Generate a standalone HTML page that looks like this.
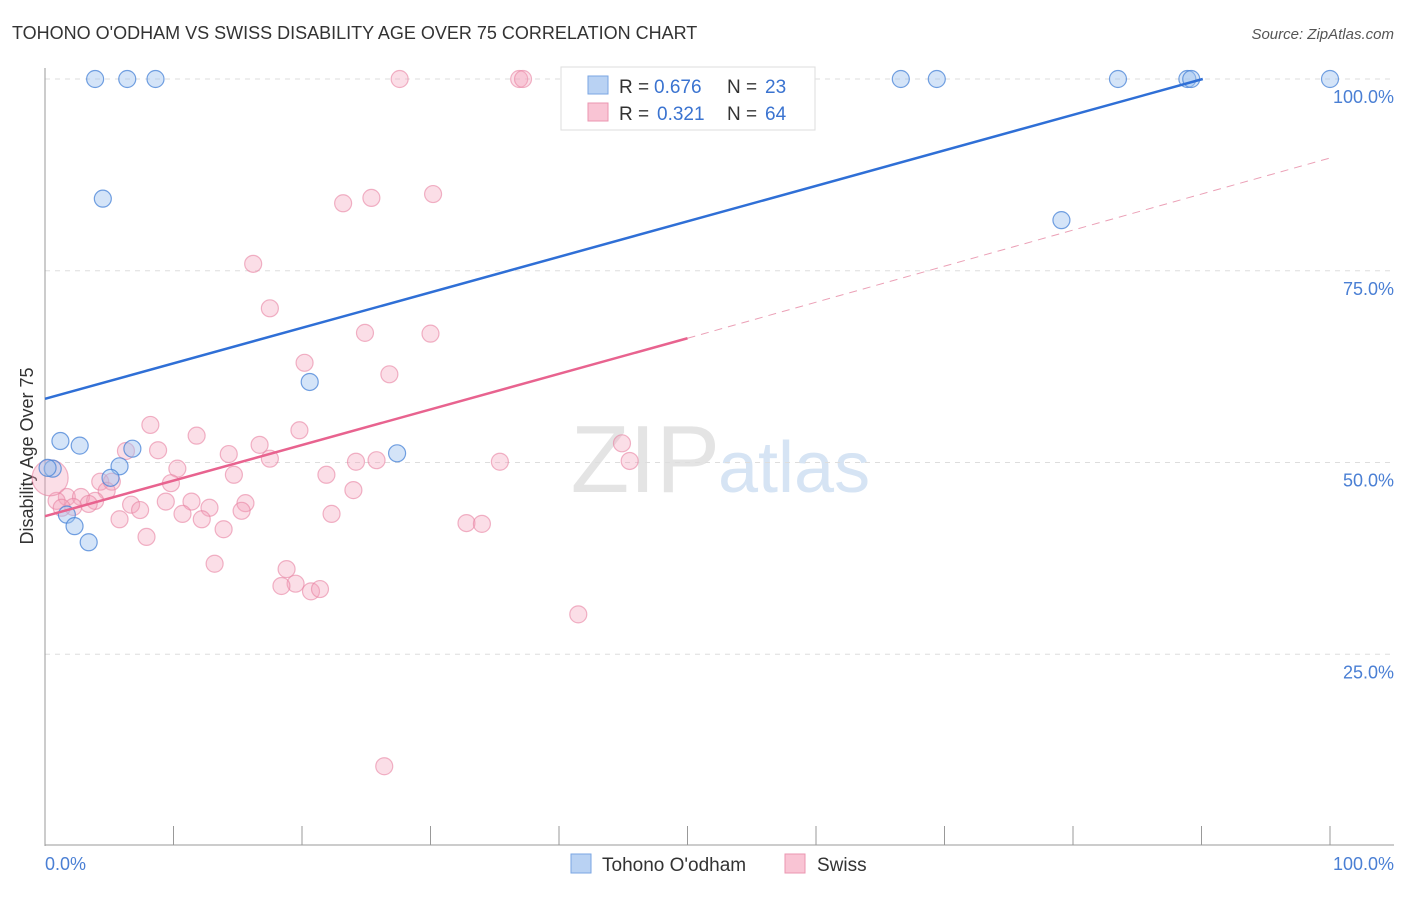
<!DOCTYPE html>
<html><head><meta charset="utf-8"><style>
body{margin:0;background:#fff;font-family:"Liberation Sans",sans-serif}
svg text{font-family:"Liberation Sans",sans-serif}
</style></head><body>
<svg id="c" width="1406" height="892" xmlns="http://www.w3.org/2000/svg">
<text x="12" y="39" font-size="18" fill="#333">TOHONO O'ODHAM VS SWISS DISABILITY AGE OVER 75 CORRELATION CHART</text>
<text x="1394" y="39" font-size="15" fill="#555" font-style="italic" text-anchor="end">Source: ZipAtlas.com</text>
<text x="720" y="492" font-size="96" fill="#e4e4e4" text-anchor="end" font-family="Liberation Serif">ZIP</text>
<text x="718" y="492" font-size="72" fill="#d6e4f4">atlas</text>
<g id="grid"></g>
<line x1="45" y1="68" x2="45" y2="846" stroke="#999"/>
<line x1="45" y1="845" x2="1394" y2="845" stroke="#999"/>
<text transform="translate(33,456) rotate(-90)" font-size="18" fill="#333" text-anchor="middle">Disability Age Over 75</text>
<text x="45" y="870" font-size="18" fill="#4a7fd4">0.0%</text>
<text x="1394" y="870" font-size="18" fill="#4a7fd4" text-anchor="end">100.0%</text>
<g id="pts"></g>
<g id="lines"></g>
<g>
<rect x="561" y="67" width="254" height="63" fill="#fff" stroke="#ddd"/>
<rect x="588" y="76" width="20" height="18" fill="#b9d2f3" stroke="#7aa6e3"/>
<rect x="588" y="103" width="20" height="18" fill="#f9c4d4" stroke="#eb96b0"/>
<text x="619" y="93" font-size="19" fill="#333">R =</text>
<text x="654" y="93" font-size="19" fill="#3a73d0">0.676</text>
<text x="727" y="93" font-size="19" fill="#333">N =</text>
<text x="765" y="93" font-size="19" fill="#3a73d0">23</text>
<text x="619" y="120" font-size="19" fill="#333">R =</text>
<text x="657" y="120" font-size="19" fill="#3a73d0">0.321</text>
<text x="727" y="120" font-size="19" fill="#333">N =</text>
<text x="765" y="120" font-size="19" fill="#3a73d0">64</text>
</g>
<g>
<rect x="571" y="854" width="20" height="19" fill="#b9d2f3" stroke="#7aa6e3"/>
<text x="602" y="871" font-size="19" fill="#333">Tohono O'odham</text>
<rect x="785" y="854" width="20" height="19" fill="#f9c4d4" stroke="#eb96b0"/>
<text x="817" y="871" font-size="19" fill="#333">Swiss</text>
</g>
</svg>
<script>
const yTicks=[25,50,75,100];
const xTicks=[0,10,20,30,40,50,60,70,80,90,100];
const blueX=[3.9,6.4,8.6,66.6,69.4,83.5,88.9,89.2,100,4.5,79.1,20.6,1.2,2.7,6.8,27.4,5.8,0.6,5.1,1.7,2.3,3.4,0.2];
const blueY=[100,100,100,100,100,100,100,100,100,84.4,81.6,60.5,52.8,52.2,51.8,51.2,49.5,49.2,48.0,43.2,41.7,39.6,49.3];
const pinkX=[27.6,36.9,37.2,30.2,25.4,23.2,16.2,17.5,24.9,30.0,20.2,26.8,8.2,11.8,6.3,8.8,19.8,16.7,14.3,17.5,24.2,25.8,35.4,44.9,45.5,10.3,14.7,21.9,4.3,5.2,9.8,24.0,4.8,1.7,2.8,3.9,0.9,11.4,9.4,15.6,6.7,3.4,2.2,1.3,7.4,12.8,15.3,10.7,22.3,5.8,12.2,13.9,32.8,34.0,7.9,13.2,18.8,19.5,18.4,20.7,21.4,41.5,26.4,0.4];
const pinkY=[100,100,100,85.0,84.5,83.8,75.9,70.1,66.9,66.8,63.0,61.5,54.9,53.5,51.5,51.6,54.2,52.3,51.1,50.5,50.1,50.3,50.1,52.5,50.2,49.2,48.4,48.4,47.5,47.5,47.3,46.4,46.3,45.5,45.5,45.0,45.0,44.9,44.9,44.7,44.5,44.6,44.2,44.1,43.8,44.1,43.7,43.3,43.3,42.6,42.6,41.3,42.1,42.0,40.3,36.8,36.1,34.2,33.9,33.2,33.5,30.2,10.4,48.0];
const blueLine=[[0,58.3],[90.1,100]];
const pinkLine=[[0,43.0],[50,66.2]];
const pinkDash=[[50,66.2],[100,89.7]];
const X=v=>45+v*12.85, Y=v=>846-v*7.67;
const NS='http://www.w3.org/2000/svg';
function mk(t,a,p){const e=document.createElementNS(NS,t);for(const k in a)e.setAttribute(k,a[k]);p.appendChild(e);return e;}
const grid=document.getElementById('grid'),pts=document.getElementById('pts'),lines=document.getElementById('lines');
yTicks.forEach(t=>{
 const l=mk('line',{x1:45,x2:1394,y1:Y(t),y2:Y(t),stroke:'#ddd','stroke-dasharray':'5,5'},grid);
 
 
 const tx=mk('text',{x:1394,y:Y(t)+24,'font-size':18,fill:'#4a7fd4','text-anchor':'end'},grid);
 tx.textContent=t.toFixed(1)+'%';
 
 
});
xTicks.forEach(t=>{
 const l=mk('line',{x1:X(t),x2:X(t),y1:826,y2:845,stroke:'#999'},grid);
 
 
});
pinkX.forEach((v,i)=>{
 const r=(i===pinkX.length-1)?18:8.5;
 const c=mk('circle',{cx:X(v),cy:Y(pinkY[i]),r:r,fill:'rgba(244,160,186,0.35)',stroke:'rgba(232,130,162,0.6)','stroke-width':1.2},pts);
 
 
});
blueX.forEach((v,i)=>{
 const c=mk('circle',{cx:X(v),cy:Y(blueY[i]),r:8.5,fill:'rgba(160,195,240,0.45)',stroke:'rgba(70,130,215,0.75)','stroke-width':1.2},pts);
 
 
});
const bl=mk('line',{x1:X(blueLine[0][0]),y1:Y(blueLine[0][1]),x2:X(blueLine[1][0]),y2:Y(blueLine[1][1]),stroke:'#2f6fd6','stroke-width':2.5},lines);


const pl=mk('line',{x1:X(pinkLine[0][0]),y1:Y(pinkLine[0][1]),x2:X(pinkLine[1][0]),y2:Y(pinkLine[1][1]),stroke:'#e8638f','stroke-width':2.5},lines);


const pd=mk('line',{x1:X(pinkDash[0][0]),y1:Y(pinkDash[0][1]),x2:X(pinkDash[1][0]),y2:Y(pinkDash[1][1]),stroke:'#eba0b6','stroke-width':1,'stroke-dasharray':'8,6'},lines);


</script>
</body></html>
